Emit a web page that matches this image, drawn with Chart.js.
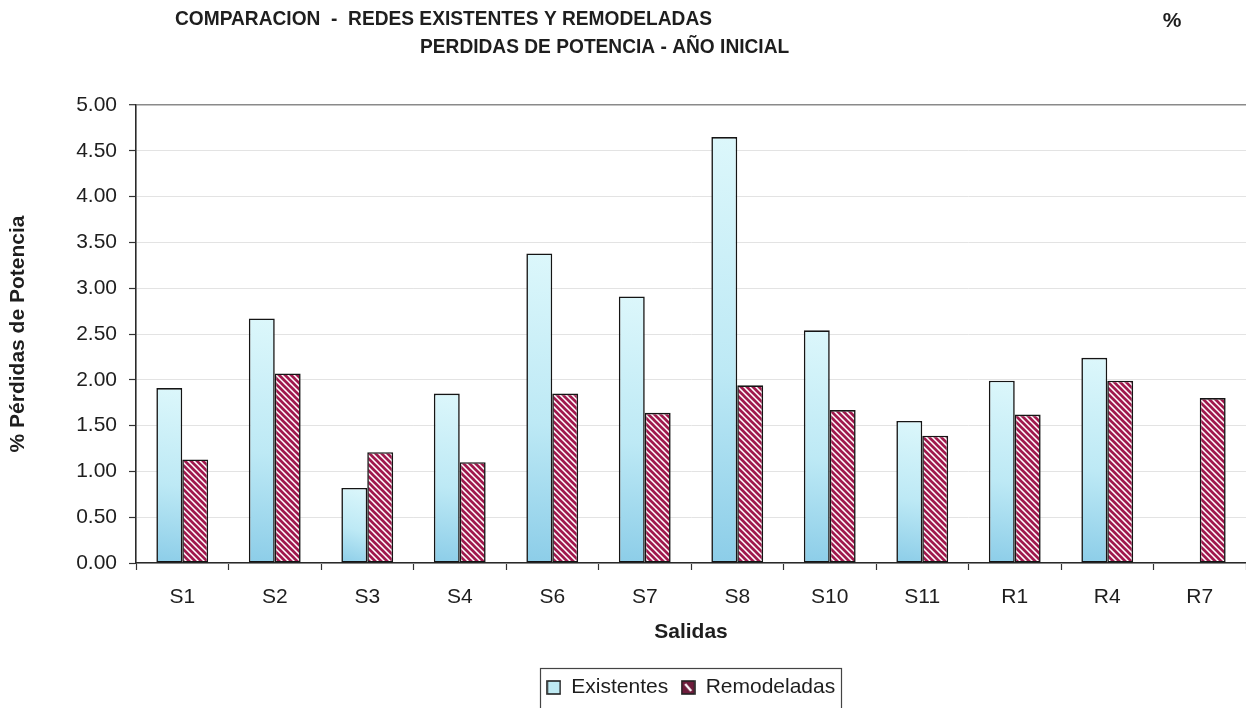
<!DOCTYPE html>
<html>
<head>
<meta charset="utf-8">
<script src="https://cdn.jsdelivr.net/npm/chart.js@4.4.1/dist/chart.umd.min.js"></script>
<style>
  html, body { margin: 0; padding: 0; background: #fff; }
  #wrap { width: 1246px; height: 708px; position: relative; }
</style>
</head>
<body>
<div id="wrap"><canvas id="c" width="1246" height="708"></canvas></div>
<script>
// Feeder outputs and their power-loss percentages (initial year)
const categories = ['S1', 'S2', 'S3', 'S4', 'S6', 'S7', 'S8', 'S10', 'S11', 'R1', 'R4', 'R7'];
const existentes = [1.91, 2.67, 0.82, 1.85, 3.38, 2.91, 4.65, 2.54, 1.55, 1.99, 2.24, null];
const remodeladas = [1.13, 2.07, 1.21, 1.10, 1.85, 1.64, 1.94, 1.67, 1.39, 1.62, 1.99, 1.80];
const yTickValues = [0, 0.5, 1, 1.5, 2, 2.5, 3, 3.5, 4, 4.5, 5];
const seriesNames = ['Existentes', 'Remodeladas'];
const titleLine1 = 'COMPARACION  -  REDES EXISTENTES Y REMODELADAS';
const titleLine2 = 'PERDIDAS DE POTENCIA - AÑO INICIAL';
const titleUnit = '%';
const xAxisTitle = 'Salidas';
const yAxisTitle = '% Pérdidas de Potencia';

const FONT = "'Liberation Sans', Arial, sans-serif";
const TEXT = '#1e1e1e';
const CRIMSON = '#a0194d';
const CAT_PCT = 0.56;

// diagonal crimson/white hatch for the remodelled series
function makeHatch(size, width) {
  const c = document.createElement('canvas');
  c.width = size; c.height = size;
  const g = c.getContext('2d');
  g.fillStyle = '#ffffff';
  g.fillRect(0, 0, size, size);
  g.strokeStyle = CRIMSON;
  g.lineWidth = width;
  g.beginPath();
  for (let k = -1; k <= 1; k++) {
    g.moveTo(k * size - 1, -1);
    g.lineTo(k * size + size + 1, size + 1);
  }
  g.stroke();
  return g.createPattern(c, 'repeat');
}
const hatch = makeHatch(6, 2.7);

// legend swatches
function swatch(kind) {
  const s = 15;
  const c = document.createElement('canvas');
  c.width = s; c.height = s;
  const g = c.getContext('2d');
  if (kind === 0) {
    g.fillStyle = '#bfeaf3';
    g.fillRect(1, 1, s - 2, s - 2);
  } else {
    g.fillStyle = '#6e1d3c';
    g.fillRect(1, 1, s - 2, s - 2);
    g.strokeStyle = '#ffffff';
    g.lineWidth = 2.2;
    g.beginPath();
    g.moveTo(4.5, 4); g.lineTo(10.5, 11);
    g.stroke();
  }
  g.strokeStyle = '#222';
  g.lineWidth = 1.6;
  g.strokeRect(1, 1, s - 2, s - 2);
  return c;
}
const swatches = [swatch(0), swatch(1)];

// cyan gradient for each existing-network bar: deeper blue toward the lower left
function cyanFill(ctx) {
  const chart = ctx.chart;
  const sx = chart.scales && chart.scales.x;
  const sy = chart.scales && chart.scales.y;
  if (ctx.type !== 'data' || ctx.raw == null || !sx || !sy) return '#bfeaf3';
  const top = sy.getPixelForValue(ctx.raw);
  const bottom = sy.getPixelForValue(0);
  const center = sx.getPixelForValue(ctx.dataIndex);
  const group = (sx.width / categories.length) * CAT_PCT;
  const left = center - group / 2;
  const right = center;
  if (![top, bottom, left, right].every(isFinite) || bottom - top < 1) return '#bfeaf3';
  const g = chart.ctx.createLinearGradient(left, bottom, right, top);
  g.addColorStop(0, '#8ccde8');
  g.addColorStop(0.45, '#bde9f5');
  g.addColorStop(1, '#dcf7fb');
  return g;
}

// headings above the plot; both lines share one horizontal squeeze
const headings = {
  id: 'headings',
  afterDraw(chart) {
    const c = chart.ctx;
    c.save();
    c.fillStyle = TEXT;
    c.font = 'bold 21px ' + FONT;
    c.textBaseline = 'middle';
    c.textAlign = 'left';
    const squeeze = (712 - 175) / c.measureText(titleLine1).width;
    const lines = [
      { text: titleLine1, x0: 175, y: 19 },
      { text: titleLine2, x0: 420, y: 47 }
    ];
    lines.forEach(l => {
      c.save();
      c.translate(l.x0, l.y);
      c.scale(squeeze, 1);
      c.fillText(l.text, 0, 0);
      c.restore();
    });
    c.textAlign = 'center';
    c.fillText(titleUnit, 1172, 21);
    c.restore();
  }
};

// frame around the legend entries
const legendFrame = {
  id: 'legendFrame',
  afterDraw(chart) {
    const lg = chart.legend;
    if (!lg || !lg.legendHitBoxes || !lg.legendHitBoxes.length) return;
    const hb = lg.legendHitBoxes;
    const last = hb[hb.length - 1];
    const left = hb[0].left - 7;
    const right = last.left + last.width + 6;
    const c = chart.ctx;
    c.save();
    c.strokeStyle = '#444';
    c.lineWidth = 1.2;
    c.strokeRect(Math.round(left) + 0.5, 668.5, Math.round(right - left), 60);
    c.restore();
  }
};

new Chart(document.getElementById('c'), {
  type: 'bar',
  data: {
    labels: categories,
    datasets: [
      {
        label: seriesNames[0],
        data: existentes,
        backgroundColor: cyanFill,
        borderColor: '#151515',
        borderWidth: 1.6,
        borderSkipped: false,
        categoryPercentage: CAT_PCT,
        barPercentage: 1.0
      },
      {
        label: seriesNames[1],
        data: remodeladas,
        backgroundColor: hatch,
        borderColor: '#151515',
        borderWidth: 1.6,
        borderSkipped: false,
        categoryPercentage: CAT_PCT,
        barPercentage: 1.0
      }
    ]
  },
  options: {
    responsive: false,
    animation: false,
    devicePixelRatio: 1,
    layout: { padding: { top: 105, left: 0, right: 0, bottom: 0 } },
    plugins: {
      title: { display: false },
      tooltip: { enabled: false },
      legend: {
        display: true,
        position: 'bottom',
        fullSize: false,
        labels: {
          font: { family: FONT, size: 21 },
          color: TEXT,
          padding: 13,
          boxWidth: 14,
          boxHeight: 14,
          usePointStyle: true,
          generateLabels: () => seriesNames.map((name, i) => ({
            text: name,
            pointStyle: swatches[i],
            fillStyle: '#fff',
            strokeStyle: '#222',
            lineWidth: 0,
            fontColor: TEXT,
            datasetIndex: i,
            hidden: false
          }))
        }
      }
    },
    scales: {
      x: {
        offset: true,
        grid: {
          offset: true,
          drawOnChartArea: false,
          tickLength: 7,
          tickColor: '#333',
          tickWidth: 1.2
        },
        border: { color: '#2a2a2a', width: 1.6 },
        ticks: {
          font: { family: FONT, size: 21 },
          color: TEXT,
          padding: 15,
          maxRotation: 0
        },
        title: {
          display: true,
          text: xAxisTitle,
          font: { family: FONT, size: 21, weight: 'bold' },
          color: TEXT,
          padding: { top: 0, bottom: 19 }
        },
        afterFit(scale) { scale.height = 101; }
      },
      y: {
        min: 0,
        max: 5,
        afterBuildTicks(scale) { scale.ticks = yTickValues.map(v => ({ value: v })); },
        grid: {
          color: ctx => (ctx.tick && ctx.tick.value === 5) ? '#8a8a8a' : '#e3e3e3',
          lineWidth: ctx => (ctx.tick && ctx.tick.value === 5) ? 1.4 : 1,
          tickLength: 7,
          tickColor: '#333',
          tickWidth: 1.2
        },
        border: { color: '#2a2a2a', width: 1.6 },
        ticks: {
          font: { family: FONT, size: 21 },
          color: TEXT,
          padding: 12,
          callback: v => Number(v).toFixed(2)
        },
        title: {
          display: true,
          text: yAxisTitle,
          font: { family: FONT, size: 21, weight: 'bold' },
          color: TEXT,
          padding: { top: 6, bottom: 0 }
        },
        afterFit(scale) { scale.width = 136; }
      }
    }
  },
  plugins: [headings, legendFrame]
});
</script>
</body>
</html>
